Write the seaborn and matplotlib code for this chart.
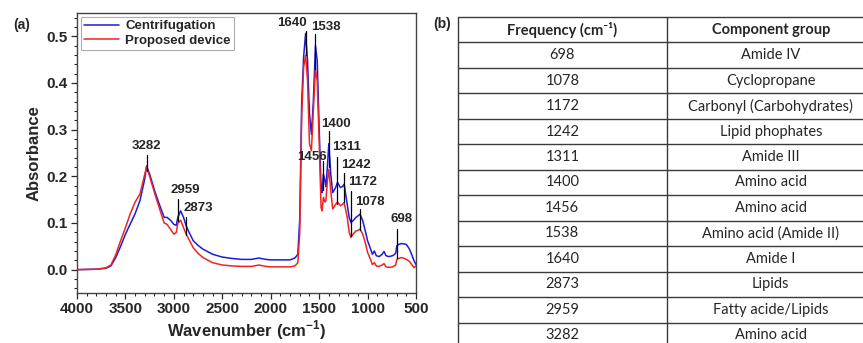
import numpy as np
import pandas as pd
import matplotlib
matplotlib.use("Agg")
import matplotlib.pyplot as plt
from matplotlib.ticker import MultipleLocator
import seaborn as sns

# FTIR spectra
wavenumber = [4000, 3800, 3700, 3650, 3600, 3550, 3500, 3450, 3400, 3350, 3300, 3282,
              3250, 3200, 3150, 3100, 3070, 3030, 3000, 2975, 2959, 2930, 2900, 2873,
              2850, 2800, 2750, 2700, 2600, 2500, 2400, 2300, 2200, 2120, 2100, 2050,
              2000, 1900, 1800, 1750, 1720, 1700, 1680, 1660, 1640, 1620, 1600, 1580,
              1560, 1538, 1520, 1500, 1480, 1470, 1456, 1440, 1430, 1415, 1400, 1380,
              1360, 1330, 1311, 1280, 1260, 1242, 1210, 1190, 1172, 1150, 1120, 1100,
              1078, 1050, 1020, 1000, 970, 950, 930, 910, 880, 850, 830, 810,
              780, 740, 710, 698, 680, 650, 620, 600, 570, 540, 520, 500]

centrifugation = [0.000, 0.001, 0.003, 0.008, 0.026, 0.050, 0.076, 0.098, 0.120, 0.148, 0.195, 0.222,
                  0.205, 0.170, 0.140, 0.112, 0.112, 0.105, 0.097, 0.095, 0.112, 0.126, 0.112, 0.094,
                  0.083, 0.062, 0.052, 0.044, 0.033, 0.027, 0.024, 0.022, 0.022, 0.025, 0.024, 0.022,
                  0.021, 0.021, 0.021, 0.025, 0.033, 0.110, 0.360, 0.456, 0.506, 0.448, 0.334, 0.290,
                  0.360, 0.480, 0.448, 0.305, 0.176, 0.165, 0.205, 0.190, 0.178, 0.220, 0.270, 0.205,
                  0.165, 0.176, 0.187, 0.176, 0.178, 0.183, 0.140, 0.112, 0.101, 0.105, 0.112, 0.115,
                  0.119, 0.105, 0.080, 0.062, 0.045, 0.033, 0.040, 0.030, 0.028, 0.033, 0.039, 0.030,
                  0.028, 0.030, 0.035, 0.051, 0.054, 0.056, 0.055, 0.054, 0.045, 0.030, 0.019, 0.011]

proposed = [0.000, 0.001, 0.004, 0.010, 0.032, 0.062, 0.090, 0.120, 0.145, 0.162, 0.205, 0.220,
            0.200, 0.165, 0.132, 0.100, 0.097, 0.085, 0.076, 0.080, 0.099, 0.106, 0.090, 0.076,
            0.067, 0.047, 0.035, 0.026, 0.015, 0.010, 0.008, 0.007, 0.007, 0.010, 0.009, 0.007,
            0.006, 0.006, 0.006, 0.008, 0.015, 0.080, 0.330, 0.434, 0.459, 0.405, 0.270, 0.255,
            0.340, 0.430, 0.405, 0.276, 0.133, 0.126, 0.155, 0.145, 0.148, 0.190, 0.215, 0.169,
            0.130, 0.140, 0.145, 0.137, 0.140, 0.144, 0.112, 0.080, 0.069, 0.076, 0.083, 0.084,
            0.087, 0.076, 0.055, 0.037, 0.022, 0.011, 0.015, 0.008, 0.007, 0.010, 0.013, 0.006,
            0.005, 0.006, 0.010, 0.022, 0.024, 0.026, 0.024, 0.022, 0.018, 0.010, 0.004, 0.008]

# peak markers: wavenumber, marker top/bottom, label position
peaks = [3282, 2959, 2873, 1640, 1538, 1456, 1400, 1311, 1242, 1172, 1078, 698]
peak_top = [0.245, 0.151, 0.112, 0.511, 0.506, 0.233, 0.298, 0.241, 0.208, 0.169, 0.130, 0.087]
peak_bottom = [0.212, 0.105, 0.075, 0.460, 0.430, 0.170, 0.220, 0.140, 0.145, 0.072, 0.085, 0.025]
label_x = [3282, 2885, 2748, 1780, 1434, 1574, 1324, 1214, 1115, 1053, 974, 645]
label_y = [0.264, 0.171, 0.133, 0.529, 0.520, 0.241, 0.312, 0.262, 0.225, 0.187, 0.145, 0.108]

# table (b)
table_freq = ["698", "1078", "1172", "1242", "1311", "1400", "1456", "1538", "1640", "2873", "2959", "3282"]
table_group = ["Amide IV", "Cyclopropane", "Carbonyl (Carbohydrates)", "Lipid phophates", "Amide III",
               "Amino acid", "Amino acid", "Amino acid (Amide II)", "Amide I", "Lipids",
               "Fatty acide/Lipids", "Amino acid"]

sns.set_style("ticks")
plt.rcParams['font.family'] = ['Liberation Sans', 'DejaVu Sans']
plt.rcParams['mathtext.fontset'] = 'custom'
plt.rcParams['mathtext.rm'] = 'Liberation Sans'
plt.rcParams['mathtext.bf'] = 'Liberation Sans:bold'

df = pd.DataFrame({
    "wavenumber": wavenumber * 2,
    "absorbance": centrifugation + proposed,
    "sample": ["Centrifugation"] * len(wavenumber) + ["Proposed device"] * len(wavenumber),
})

fig = plt.figure(figsize=(8.63, 3.43), dpi=100)
ax = fig.add_axes([77 / 863, 50 / 343, 339 / 863, 280 / 343])

sns.lineplot(data=df, x="wavenumber", y="absorbance", hue="sample", estimator=None,
             palette={"Centrifugation": "#1c1cd8", "Proposed device": "#ee2424"},
             linewidth=1.1, ax=ax)

for p, t, b, lx, ly in zip(peaks, peak_top, peak_bottom, label_x, label_y):
    ax.plot([p, p], [b, t], color="black", lw=0.9)
    ax.text(lx, ly, str(p), ha="center", va="center", fontsize=9.5, fontweight="bold")

ax.set_xlim(4000, 500)
ax.set_ylim(-0.05, 0.55)
ax.xaxis.set_major_locator(MultipleLocator(500))
ax.xaxis.set_minor_locator(MultipleLocator(100))
ax.yaxis.set_major_locator(MultipleLocator(0.1))
ax.yaxis.set_minor_locator(MultipleLocator(0.02))
ax.set_yticks([0.0, 0.1, 0.2, 0.3, 0.4, 0.5])
ax.set_yticklabels(["0.0", "0.1", "0.2", "0.3", "0.4", "0.5"])
ax.tick_params(which="major", direction="out", length=4, width=0.9, labelsize=11, pad=2.5)
ax.tick_params(which="minor", direction="out", length=2.5, width=0.8)
for lab in ax.get_xticklabels() + ax.get_yticklabels():
    lab.set_fontweight("bold")
for s in ax.spines.values():
    s.set_visible(True)
    s.set_color("#444444")
    s.set_linewidth(1.0)

ax.set_xlabel(r"Wavenumber (cm$^{\mathbf{-1}}$)", fontsize=12, fontweight="bold", labelpad=2)
ax.set_ylabel("Absorbance", fontsize=12, fontweight="bold", labelpad=4)

leg = ax.legend(loc="upper left", frameon=True, fancybox=False, fontsize=9.5,
                handlelength=2.6, borderaxespad=0.3, borderpad=0.25, labelspacing=0.15,
                handletextpad=0.5, title=None)
leg.get_frame().set_edgecolor("#999999")
leg.get_frame().set_linewidth(0.8)
for t in leg.get_texts():
    t.set_fontweight("bold")

fig.text(13 / 863, 1 - 25 / 343, "(a)", fontsize=10, fontweight="bold", va="center", ha="left")
fig.text(433 / 863, 1 - 24 / 343, "(b)", fontsize=10, fontweight="bold", va="center", ha="left")

# table drawn on its own axes
n_rows = len(table_freq) + 1
tab = fig.add_axes([458 / 863, (343 - 348) / 343, 417 / 863, 331 / 343])
tab.set_xlim(0, 1)
tab.set_ylim(n_rows, 0)
tab.axis("off")
line_kw = dict(color="#3a3a3a", lw=1.0, clip_on=False)
for r in range(n_rows + 1):
    tab.plot([0, 1], [r, r], **line_kw)
for c in [0, 0.5, 1]:
    tab.plot([c, c], [0, n_rows], **line_kw)

tfont = ['Lato', 'DejaVu Sans']
tab.text(0.25, 0.5, "Frequency (cm\u207b\u00b9)", ha="center", va="center",
         fontsize=10.5, fontweight="bold", family=tfont)
tab.text(0.75, 0.5, "Component group", ha="center", va="center",
         fontsize=10.5, fontweight="bold", family=tfont)
for i, (f, g) in enumerate(zip(table_freq, table_group)):
    tab.text(0.25, i + 1.5, f, ha="center", va="center", fontsize=10.5, family=tfont)
    tab.text(0.75, i + 1.5, g, ha="center", va="center", fontsize=10.5, family=tfont)

fig.savefig("out.png", dpi=100)
